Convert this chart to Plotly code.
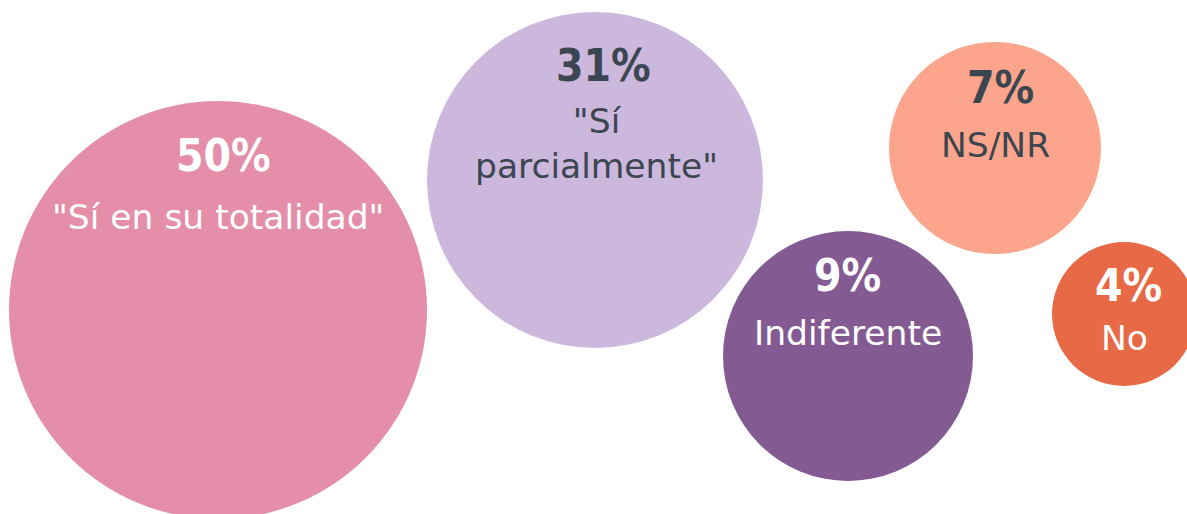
import plotly.graph_objects as go

# ---- data ----
categories = ['"Sí en su totalidad"', '"Sí<br>parcialmente"', 'NS/NR', 'Indiferente', 'No']
percentages = [50, 31, 7, 9, 4]

# ---- layout of the bubbles (pixel space) ----
bubble_x = [218, 595, 995, 848, 1124]
bubble_y = [310, 180, 148, 356, 314]
bubble_diameter = [418, 336, 212, 250, 144]
bubble_colors = ["#E48EA9", "#CCB8DD", "#FDA58C", "#845A92", "#E86945"]
text_colors = ["#FFFFFF", "#3C4650", "#3C4650", "#FFFFFF", "#FFFFFF"]
pct_pos = [(223, 155), (603, 65), (1000, 87), (847, 275), (1128, 285)]
label_pos = [(218, 217), (596, 143), (995, 145), (848, 333), (1124, 338)]

W, H = 1187, 514

fig = go.Figure()
fig.add_trace(go.Scatter(
    x=bubble_x, y=bubble_y, mode="markers",
    marker=dict(size=bubble_diameter, sizemode="diameter", color=bubble_colors,
                line=dict(width=0), opacity=1),
    hoverinfo="skip", showlegend=False,
))

for i, (cat, pct) in enumerate(zip(categories, percentages)):
    fig.add_annotation(
        x=pct_pos[i][0], y=pct_pos[i][1], text=f"<b>{pct}%</b>", showarrow=False,
        xanchor="center", yanchor="middle",
        font=dict(family="DejaVu Sans Condensed", size=44, color=text_colors[i]),
    )
    fig.add_annotation(
        x=label_pos[i][0], y=label_pos[i][1], text=cat, showarrow=False,
        xanchor="center", yanchor="middle",
        font=dict(family="DejaVu Sans", size=34.5, color=text_colors[i]),
    )

fig.update_layout(
    width=W, height=H,
    margin=dict(l=0, r=0, t=0, b=0),
    paper_bgcolor="white", plot_bgcolor="white",
    xaxis=dict(range=[0, W], visible=False, fixedrange=True),
    yaxis=dict(range=[H, 0], visible=False, fixedrange=True),
    showlegend=False,
)

fig.write_html("out.html", config={"displayModeBar": False},
               post_script="document.body.style.margin='0';")
